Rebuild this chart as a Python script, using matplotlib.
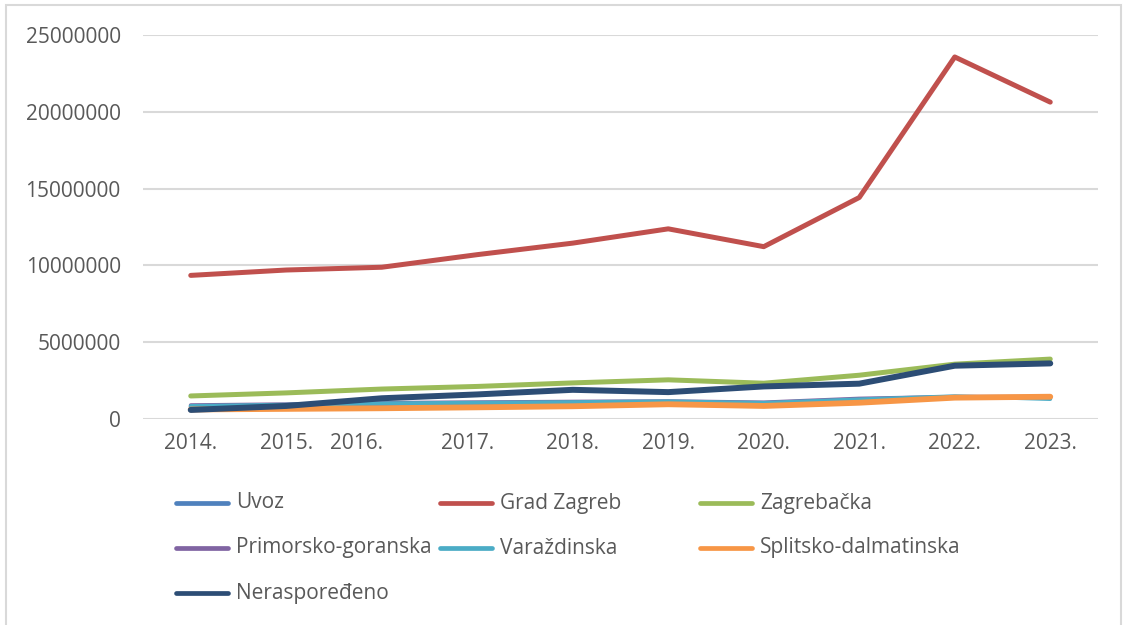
from matplotlib import pyplot as plt
from matplotlib.lines import Line2D
from matplotlib.patches import Rectangle
import matplotlib.transforms as mtransforms

plt.rcParams['font.family'] = ['Open Sans', 'DejaVu Sans']

godine = ['2014.', '2015.', '2016.', '2017.', '2018.', '2019.', '2020.', '2021.', '2022.', '2023.']

uvoz = [820000, 900000, 980000, 1020000, 1060000, 1080000, 1000000, 1250000, 1420000, 1380000]
grad_zagreb = [9350000, 9700000, 9880000, 10700000, 11450000, 12380000, 11220000, 14420000, 23570000, 20630000]
zagrebacka = [1500000, 1700000, 1950000, 2120000, 2350000, 2550000, 2330000, 2850000, 3570000, 3900000]
primorsko = [900000, 960000, 1050000, 1090000, 1130000, 1160000, 1080000, 1330000, 1450000, 1450000]
varazdinska = [850000, 930000, 1020000, 1060000, 1100000, 1150000, 1050000, 1280000, 1480000, 1300000]
splitsko = [620000, 660000, 700000, 760000, 830000, 960000, 850000, 1060000, 1390000, 1450000]
neraspor = [590000, 850000, 1350000, 1600000, 1900000, 1750000, 2120000, 2300000, 3470000, 3620000]

nazivi = ['Uvoz', 'Grad Zagreb', 'Zagrebačka', 'Primorsko-goranska',
          'Varaždinska', 'Splitsko-dalmatinska', 'Neraspoređeno']
serije = [uvoz, grad_zagreb, zagrebacka, primorsko, varazdinska, splitsko, neraspor]
boje = ['#4F81BD', '#C0504D', '#9BBB59', '#8064A2', '#4BACC6', '#F79646', '#2C4D75']
debljine = [3.0, 3.6, 3.6, 2.8, 2.8, 4.2, 4.3]

# label shifts (px) as in the original picture
pomaci = [0, 0, -25, -10, 0, 0, 0, 0, 0, 0]

fig = plt.figure(figsize=(11.24, 6.25), dpi=100)
ax = fig.add_axes([143/1124, 1-419/625, 955/1124, 384/625])

x = list(range(len(godine)))
for s, c, lw in zip(serije, boje, debljine):
    ax.plot(x, s, color=c, lw=lw, solid_capstyle='round', solid_joinstyle='round')

ax.set_xlim(-0.5, 9.5)
ax.set_ylim(0, 25000000)
ax.set_yticks(range(0, 25000001, 5000000))
ax.set_yticklabels([str(v) for v in range(0, 25000001, 5000000)])
ax.set_xticks(x)
ax.set_xticklabels(godine)
ax.grid(axis='y', color='#D9D9D9', lw=1.5)
ax.set_axisbelow(True)
for sp in ax.spines.values():
    sp.set_visible(False)
ax.tick_params(length=0, labelsize=15, colors='#595959')
ax.tick_params(axis='y', pad=16)
ax.tick_params(axis='x', pad=10)

for lab, dx in zip(ax.get_xticklabels(), pomaci):
    lab.set_transform(lab.get_transform() + mtransforms.ScaledTranslation(dx/100, 0, fig.dpi_scale_trans))

# legend drawn by hand, 3 columns
stupci = [176, 440, 700]
redovi = [503, 548, 593]
for i, (n, c) in enumerate(zip(nazivi, boje)):
    x0 = stupci[i % 3]
    y0 = 1 - redovi[i // 3] / 625
    fig.add_artist(Line2D([x0/1124, (x0+52)/1124], [y0, y0], color=c, lw=3.4,
                          solid_capstyle='round'))
    fig.text((x0+60)/1124, y0, n, fontsize=15, color='#595959', va='center', ha='left')

fig.add_artist(Rectangle((6/1124, -0.1), 1115/1124, 1.1 - 5/625, transform=fig.transFigure,
                         fill=False, edgecolor='#D9D9D9', lw=1.5))

plt.savefig('out.png', dpi=100)
